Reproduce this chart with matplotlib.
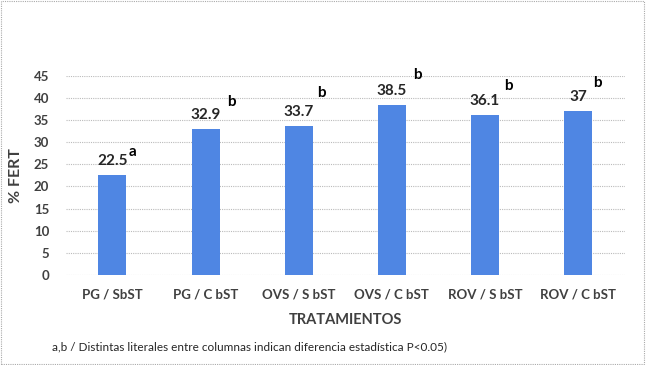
import matplotlib
matplotlib.use("Agg")
import matplotlib.pyplot as plt
from matplotlib.patches import Rectangle

categories = ["PG / SbST", "PG / C bST", "OVS / S bST", "OVS / C bST", "ROV / S bST", "ROV / C bST"]
values = [22.5, 32.9, 33.7, 38.5, 36.1, 37]
value_labels = ["22.5", "32.9", "33.7", "38.5", "36.1", "37"]
letters = ["a", "b", "b", "b", "b", "b"]
letter_y = [27.8, 39.1, 41.2, 45.2, 42.8, 43.4]
letter_dx = [0.22, 0.28, 0.24, 0.28, 0.25, 0.21]
yticks = [0, 5, 10, 15, 20, 25, 30, 35, 40, 45]

plt.rcParams['font.family'] = ['Lato', 'DejaVu Sans']

fig = plt.figure(figsize=(6.46, 3.65), dpi=100)
ax = fig.add_axes([0.102, 0.247, 0.865, 0.545])

x = list(range(len(categories)))
ax.bar(x, values, width=0.3, color="#4F86E3", zorder=3)
ax.set_xlim(-0.5, len(categories) - 0.5)
ax.set_ylim(0, 45)
ax.set_yticks(yticks)
ax.set_xticks(x)
ax.set_xticklabels(categories, fontsize=9.5, fontweight='bold', color="#404040")
ax.tick_params(axis='y', labelsize=9.5, colors="#404040", length=0, pad=12)
ax.tick_params(axis='x', length=0, pad=10)
for lab in ax.get_yticklabels():
    lab.set_fontweight('bold')
ax.yaxis.grid(True, linestyle=(0, (1, 1)), color="#BBBBBB", linewidth=0.8, zorder=0)
for s in ax.spines.values():
    s.set_visible(False)

for xi, v, vl in zip(x, values, value_labels):
    ax.annotate(vl, (xi, v), xytext=(0, 5), textcoords="offset points",
                ha='center', va='bottom', fontsize=11, fontweight='bold', color="#262626")
for xi, lt, ly, dx in zip(x, letters, letter_y, letter_dx):
    ax.text(xi + dx, ly, lt, ha='center', va='center', fontsize=11,
            fontweight='bold', color="#000000", clip_on=False)

ax.set_ylabel("% FERT", fontsize=11.5, fontweight='bold', color="#404040", labelpad=8)
fig.text(0.535, 0.123, "TRATAMIENTOS", ha='center', va='center', fontsize=10.5,
         fontweight='bold', color="#404040")
fig.text(0.081, 0.049, "a,b / Distintas literales entre columnas indican diferencia estadística P<0.05)",
         ha='left', va='center', fontsize=8.5, color="#262626")

fig.add_artist(Rectangle((0.002, 0.003), 0.995, 0.993, transform=fig.transFigure,
                         fill=False, edgecolor="#AAAAAA", linestyle=(0, (1, 1)), linewidth=0.8))

fig.savefig("out.png", dpi=100)
